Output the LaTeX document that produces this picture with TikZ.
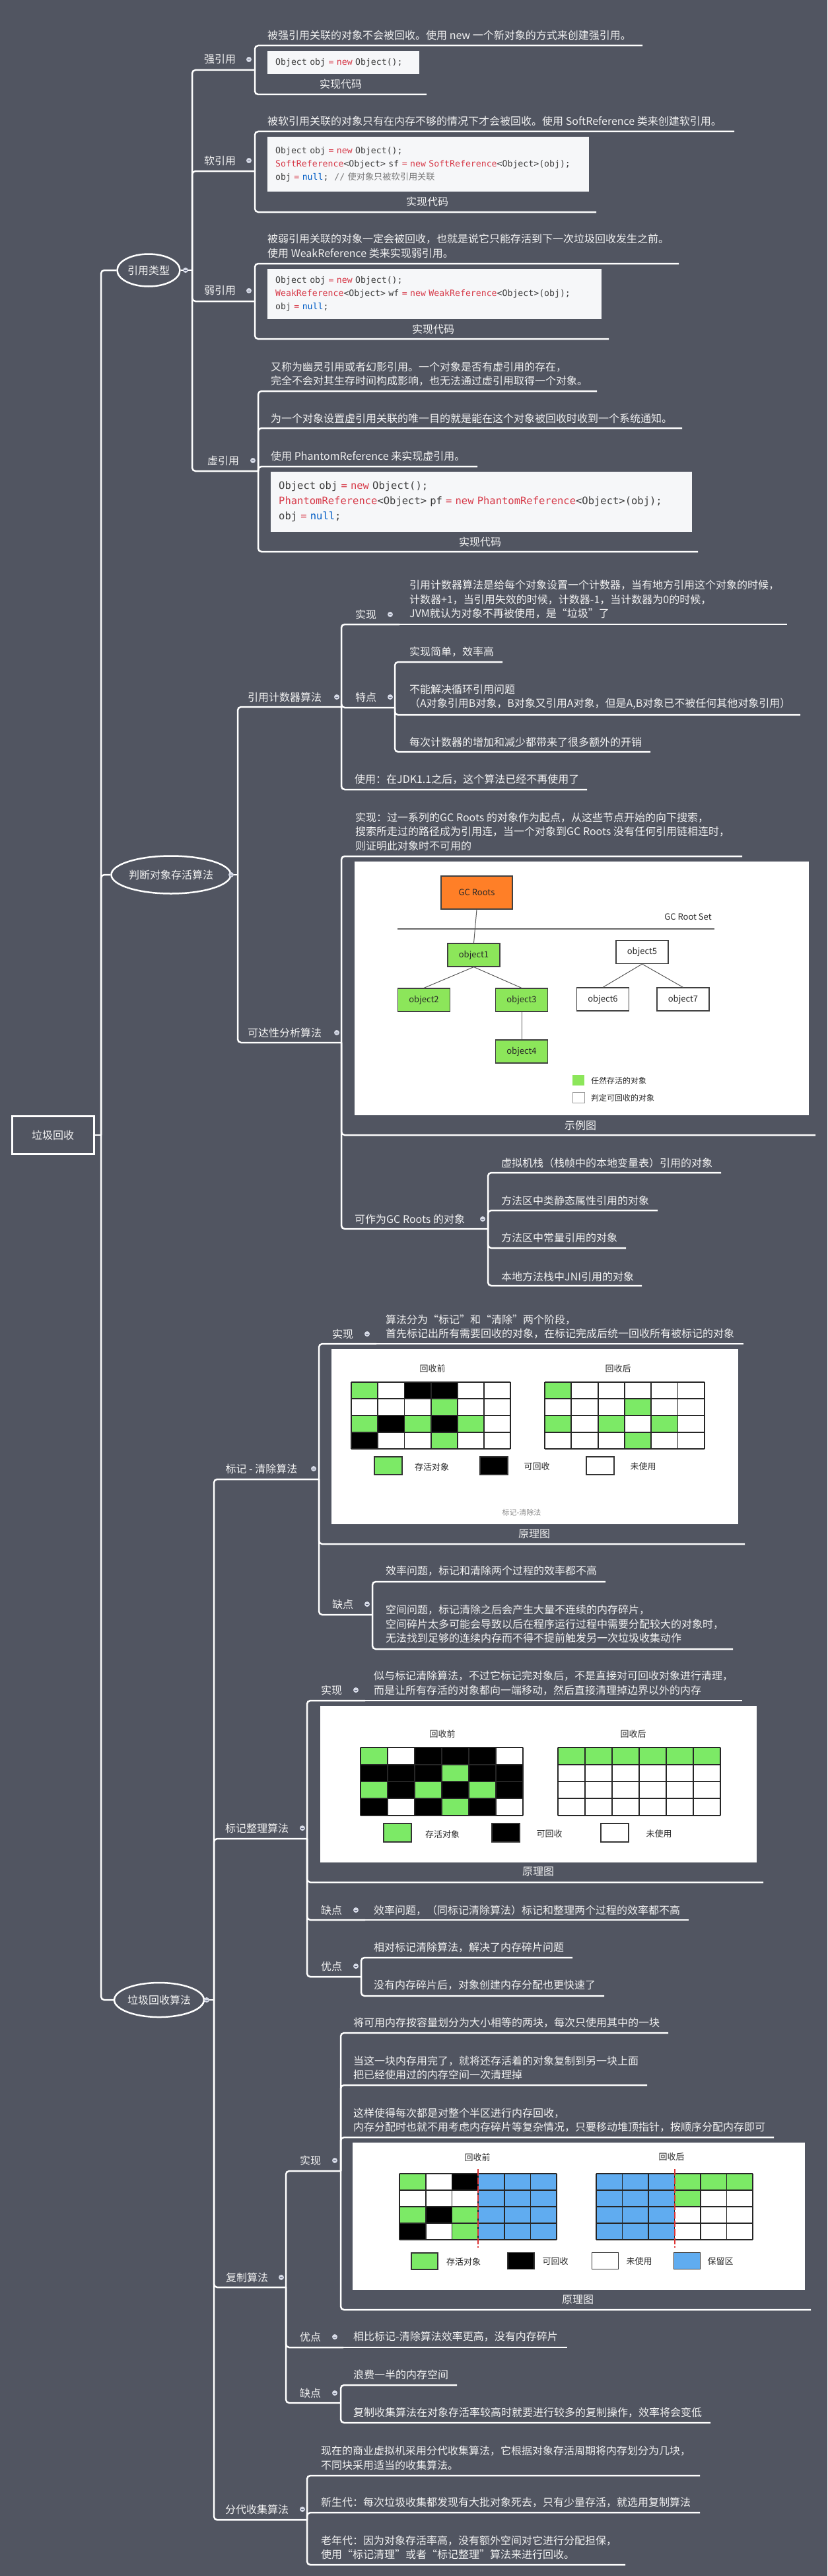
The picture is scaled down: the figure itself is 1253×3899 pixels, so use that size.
\documentclass[tikz,border=0pt]{standalone}
\usepackage{fontspec}
\setmainfont{Noto Sans CJK SC}
\setmonofont{DejaVu Sans Mono}
\usetikzlibrary{shapes.geometric}

\definecolor{bg}{RGB}{81,85,97}
\definecolor{fg}{RGB}{242,242,242}
\definecolor{foldfill}{RGB}{214,218,230}
\definecolor{foldline}{RGB}{90,96,120}
\definecolor{codebg}{RGB}{246,247,249}
\definecolor{codefg}{RGB}{60,60,60}
\definecolor{kw}{RGB}{215,58,73}
\definecolor{nl}{RGB}{0,92,197}
\definecolor{cm}{RGB}{120,120,120}
\definecolor{imgtext}{RGB}{40,40,40}
\definecolor{rootorange}{RGB}{255,127,39}
\definecolor{live}{RGB}{140,230,90}
\definecolor{cellgreen}{RGB}{124,234,102}
\definecolor{cellblue}{RGB}{96,172,240}
\definecolor{cutred}{RGB}{220,50,50}

\tikzset{
  branch/.style={draw=white, line width=2.5pt, rounded corners=5pt},
  txt/.style={text=fg, font=\fontsize{16}{21.5}\selectfont, inner sep=0pt, align=left, anchor=west},
  lbl/.style={text=fg, font=\fontsize{16}{16}\selectfont, inner sep=0pt},
  bubble/.style={ellipse, draw=white, line width=2.5pt, fill=bg, text=fg, inner sep=0pt, font=\fontsize{16}{16}\selectfont},
  rootbox/.style={rectangle, draw=white, line width=3pt, text=fg, minimum width=124, minimum height=57, font=\fontsize{16}{16}\selectfont},
  fold/.style={circle, fill=foldfill, minimum size=8pt, inner sep=0pt, path picture={\draw[foldline, line width=1pt] ([xshift=-2pt]path picture bounding box.center) -- ([xshift=2pt]path picture bounding box.center);}},
  code/.style={fill=codebg, anchor=north west, inner xsep=12pt, inner ysep=0pt, align=left, text=codefg, font=\ttfamily\fontsize{13.2}{20}\selectfont},
  shot/.style={fill=white, anchor=north west, inner sep=0pt},
  obj/.style={draw=black!75, line width=1.2pt, minimum width=79, minimum height=35, inner sep=0pt, text=imgtext, font=\fontsize{13}{13}\selectfont},
  ref/.style={draw=black!65, line width=1pt},
  imgtxt/.style={text=imgtext, inner sep=0pt, font=\fontsize{13}{13}\selectfont},
  key/.style={draw=black!80, line width=1.5pt, inner sep=0pt},
  cellline/.style={draw=black!85, line width=1.8pt},
  cut/.style={draw=cutred, line width=2pt, dash pattern=on 10pt off 3pt},
}

\newcommand\memgrid[5]{%
  \foreach \cell [count=\i from 0] in {#5} {
    \pgfmathtruncatemacro\col{mod(\i,6)}
    \pgfmathtruncatemacro\row{floor(\i/6)}
    \fill[fill=\cell] ({#1+\col*#3},{#2+\row*#4}) rectangle ++(#3,#4);
  }
  \foreach \k in {0,...,6} \draw[cellline] ({#1+\k*#3},#2) -- ++(0,{4*#4});
  \foreach \k in {0,...,4} \draw[cellline] (#1,{#2+\k*#4}) -- ++({6*#3},0);
}

\begin{document}
\begin{tikzpicture}[x=1pt,y=-1pt]
\fill[bg] (0,0) rectangle (1253,3899);
\useasboundingbox (0,0) rectangle (1253,3899);

\node[rootbox] (root) at (80,1718) {垃圾回收};
\coordinate (root-r) at (153,1718);

\node[bubble, minimum width=95, minimum height=49] (yylx) at (225,409) {引用类型};
\coordinate (yylx-r) at (291,409);
\node[bubble, minimum width=163, minimum height=57] (pdcl) at (259,1324) {判断对象存活算法};
\coordinate (pdcl-r) at (360,1324);
\node[bubble, minimum width=127, minimum height=52] (hsf) at (241,3027) {垃圾回收算法};
\coordinate (hsf-r) at (324,3027);

\node[lbl] (qiang) at (333,90) {强引用};
\coordinate (qiang-r) at (386,106);
\node[txt] (qiang-a) at (405,53) {被强引用关联的对象不会被回收。使用 new 一个新对象的方式来创建强引用。};
\coordinate (qiang-a-r) at (973,69);
\node[code, text width=206, minimum width=230, minimum height=35] (qiang-b) at (405,77) {Object obj \textcolor{kw}{=} \textcolor{kw}{new} Object();};
\node[lbl] (qiang-cap) at (516,127) {实现代码};
\coordinate (qiang-b-r) at (646,143);

\node[lbl] (ruan) at (333,243) {软引用};
\coordinate (ruan-r) at (386,259);
\node[txt] (ruan-a) at (405,183) {被软引用关联的对象只有在内存不够的情况下才会被回收。使用 SoftReference 类来创建软引用。};
\coordinate (ruan-a-r) at (1112,199);
\node[code, text width=463, minimum width=487, minimum height=83] (ruan-b) at (405,207) {Object obj \textcolor{kw}{=} \textcolor{kw}{new} Object();\\
\textcolor{kw}{SoftReference}<Object> sf \textcolor{kw}{=} \textcolor{kw}{new} \textcolor{kw}{SoftReference}<Object>(obj);\\
obj \textcolor{kw}{=} \textcolor{nl}{null};~ \textcolor{cm}{// {\rmfamily 使对象只被软引用关联}}};
\node[lbl] (ruan-cap) at (647,305) {实现代码};
\coordinate (ruan-b-r) at (903,321);

\node[lbl] (ruo) at (333,440) {弱引用};
\coordinate (ruo-r) at (386,456);
\node[txt] (ruo-a) at (405,372.5) {被弱引用关联的对象一定会被回收，也就是说它只能存活到下一次垃圾回收发生之前。\\使用 WeakReference 类来实现弱引用。};
\coordinate (ruo-a-r) at (1028,399);
\node[code, text width=482, minimum width=506, minimum height=76] (ruo-b) at (405,407) {Object obj \textcolor{kw}{=} \textcolor{kw}{new} Object();\\
\textcolor{kw}{WeakReference}<Object> wf \textcolor{kw}{=} \textcolor{kw}{new} \textcolor{kw}{WeakReference}<Object>(obj);\\
obj \textcolor{kw}{=} \textcolor{nl}{null};};
\node[lbl] (ruo-cap) at (656,498) {实现代码};
\coordinate (ruo-b-r) at (922,513);

\node[lbl] (xu) at (338,697) {虚引用};
\coordinate (xu-r) at (391,713);
\node[txt] (xu-a) at (410,566) {又称为幽灵引用或者幻影引用。一个对象是否有虚引用的存在，\\完全不会对其生存时间构成影响，也无法通过虚引用取得一个对象。};
\coordinate (xu-a-r) at (904,592);
\node[txt] (xu-b) at (410,633) {为一个对象设置虚引用关联的唯一目的就是能在这个对象被回收时收到一个系统通知。};
\coordinate (xu-b-r) at (1033,648);
\node[txt] (xu-c) at (410,690) {使用 PhantomReference 来实现虚引用。};
\coordinate (xu-c-r) at (723,706);
\node[code, text width=614, minimum width=638, minimum height=91, font=\ttfamily\fontsize{15.5}{23}\selectfont] (xu-d) at (410,714) {Object obj \textcolor{kw}{=} \textcolor{kw}{new} Object();\\
\textcolor{kw}{PhantomReference}<Object> pf \textcolor{kw}{=} \textcolor{kw}{new} \textcolor{kw}{PhantomReference}<Object>(obj);\\
obj \textcolor{kw}{=} \textcolor{nl}{null};};
\node[lbl] (xu-cap) at (727,820) {实现代码};
\coordinate (xu-d-r) at (1057,835);

\node[lbl] (yyjs) at (431,1055) {引用计数器算法};
\coordinate (yyjs-r) at (517,1070);
\node[lbl] (yyjs-sx) at (554,930) {实现};
\coordinate (yyjs-sx-r) at (605,945);
\node[txt] (yyjs-sx-a) at (620,907.5) {引用计数器算法是给每个对象设置一个计数器，当有地方引用这个对象的时候，\\计数器+1，当引用失效的时候，计数器-1，当计数器为0的时候，\\JVM就认为对象不再被使用，是“垃圾”了};
\coordinate (yyjs-sx-a-r) at (1192,945);
\node[lbl] (yyjs-td) at (554,1055) {特点};
\coordinate (yyjs-td-r) at (598,1071);
\node[txt] (yyjs-td-a) at (620,987) {实现简单，效率高};
\coordinate (yyjs-td-a-r) at (761,1002);
\node[txt] (yyjs-td-b) at (620,1055) {不能解决循环引用问题\\（A对象引用B对象，B对象又引用A对象，但是A,B对象已不被任何其他对象引用）};
\coordinate (yyjs-td-b-r) at (1212,1082);
\node[txt] (yyjs-td-c) at (620,1123) {每次计数器的增加和减少都带来了很多额外的开销};
\coordinate (yyjs-td-c-r) at (985,1138);
\node[txt] (yyjs-sy) at (537,1180) {使用：在JDK1.1之后，这个算法已经不再使用了};
\coordinate (yyjs-sy-r) at (889,1195);

\node[lbl] (kdx) at (431,1563) {可达性分析算法};
\coordinate (kdx-r) at (517,1578);
\node[txt] (kdx-a) at (538,1258.5) {实现：过一系列的GC Roots 的对象作为起点，从这些节点开始的向下搜索，\\搜索所走过的路径成为引用连，当一个对象到GC Roots 没有任何引用链相连时，\\则证明此对象时不可用的};
\coordinate (kdx-a-r) at (1124,1296);
\node[shot, minimum width=688, minimum height=384] (kdx-b) at (537,1304) {};
\node[obj, fill=rootorange, minimum width=108, minimum height=50] (gcroots) at (722,1351) {GC Roots};
\node[imgtxt] (rootset) at (1042,1388) {GC Root Set};
\coordinate (set-l) at (602,1406);
\coordinate (set-r) at (1082,1406);
\draw[black!60, line width=1.5pt] (set-l) -- (set-r);
\node[obj, fill=live] (o1) at (717.5,1445.5) {object1};
\node[obj, fill=live] (o2) at (642,1513.5) {object2};
\node[obj, fill=live] (o3) at (790,1513.5) {object3};
\node[obj, fill=live] (o4) at (790,1591.5) {object4};
\node[obj, fill=white] (o5) at (972.5,1441) {object5};
\node[obj, fill=white] (o6) at (913,1512.5) {object6};
\node[obj, fill=white] (o7) at (1034.5,1512.5) {object7};
\draw[ref] (gcroots.south) -- (o1.north);
\draw[ref] (o1.south) -- (o2.north);
\draw[ref] (o1.south) -- (o3.north);
\draw[ref] (o3.south) -- (o4.north);
\draw[ref] (o5.south) -- (o6.north);
\draw[ref] (o5.south) -- (o7.north);
\node[fill=live, minimum width=18, minimum height=16, inner sep=0pt] (k-live) at (876,1635) {};
\node[imgtxt, anchor=west, font=\fontsize{12}{12}\selectfont] (k-live-t) at (895,1636) {任然存活的对象};
\node[draw=black!40, line width=1pt, minimum width=18, minimum height=16, inner sep=0pt] (k-dead) at (876,1661) {};
\node[imgtxt, anchor=west, font=\fontsize{12}{12}\selectfont] (k-dead-t) at (895,1662) {判定可回收的对象};
\node[lbl] (kdx-cap) at (879,1703) {示例图};
\coordinate (kdx-b-r) at (1235,1718);
\node[lbl, anchor=west] (kdx-gc) at (537,1845) {可作为GC Roots 的对象};
\coordinate (kdx-gc-r) at (739,1860);
\node[txt] (kdx-gc-a) at (759,1760) {虚拟机栈（栈帧中的本地变量表）引用的对象};
\coordinate (kdx-gc-a-r) at (1092,1775);
\node[txt] (kdx-gc-b) at (759,1817) {方法区中类静态属性引用的对象};
\coordinate (kdx-gc-b-r) at (996,1832);
\node[txt] (kdx-gc-c) at (759,1873) {方法区中常量引用的对象};
\coordinate (kdx-gc-c-r) at (948,1889);
\node[txt] (kdx-gc-d) at (759,1932) {本地方法栈中JNI引用的对象};
\coordinate (kdx-gc-d-r) at (972,1946);

\node[lbl] (bjqc) at (396,2223) {标记 - 清除算法};
\coordinate (bjqc-r) at (483,2239);
\node[lbl] (bjqc-sx) at (519,2019) {实现};
\coordinate (bjqc-sx-r) at (570,2034);
\node[txt] (bjqc-sx-a) at (584,2008) {算法分为“标记”和“清除”两个阶段，\\首先标记出所有需要回收的对象，在标记完成后统一回收所有被标记的对象};
\coordinate (bjqc-sx-a-r) at (1126,2034);
\node[shot, minimum width=616, minimum height=265] (bjqc-b) at (502,2042) {};
\node[imgtxt] (ms-pre) at (655,2072) {回收前};
\node[imgtxt] (ms-post) at (936,2072) {回收后};
\memgrid{532}{2092}{40.2}{25.25}{cellgreen,white,black,black,white,white, white,white,white,cellgreen,white,white, cellgreen,black,cellgreen,black,cellgreen,white, black,white,white,cellgreen,white,white}
\memgrid{825}{2092}{40.3}{25.25}{cellgreen,white,white,white,white,white, white,white,white,cellgreen,white,white, cellgreen,white,cellgreen,white,cellgreen,white, white,white,white,cellgreen,white,white}
\node[key, fill=cellgreen, minimum width=42, minimum height=27] (ms-k1) at (588,2218.5) {};
\node[imgtxt] (ms-t1) at (654,2220) {存活对象};
\node[key, fill=black, minimum width=42, minimum height=27] (ms-k2) at (748,2218.5) {};
\node[imgtxt] (ms-t2) at (813,2220) {可回收};
\node[key, fill=white, minimum width=42, minimum height=27] (ms-k3) at (909,2218.5) {};
\node[imgtxt] (ms-t3) at (974,2220) {未使用};
\node[imgtxt, text=black!45, font=\fontsize{11}{11}\selectfont] (ms-name) at (790,2289) {标记-清除法};
\node[lbl] (bjqc-cap) at (809,2322) {原理图};
\coordinate (bjqc-b-r) at (1128,2337);
\node[lbl] (bjqc-qd) at (519,2428) {缺点};
\coordinate (bjqc-qd-r) at (564,2444);
\node[txt] (bjqc-qd-a) at (584,2378) {效率问题，标记和清除两个过程的效率都不高};
\coordinate (bjqc-qd-a-r) at (917,2394);
\node[txt] (bjqc-qd-b) at (584,2458) {空间问题，标记清除之后会产生大量不连续的内存碎片，\\空间碎片太多可能会导致以后在程序运行过程中需要分配较大的对象时，\\无法找到足够的连续内存而不得不提前触发另一次垃圾收集动作};
\coordinate (bjqc-qd-b-r) at (1110,2496);

\node[lbl] (bjzl) at (389,2767) {标记整理算法};
\coordinate (bjzl-r) at (465,2783);
\node[lbl] (bjzl-sx) at (502,2558) {实现};
\coordinate (bjzl-sx-r) at (553,2574);
\node[txt] (bjzl-sx-a) at (566,2547.5) {似与标记清除算法，不过它标记完对象后，不是直接对可回收对象进行清理，\\而是让所有存活的对象都向一端移动，然后直接清理掉边界以外的内存};
\coordinate (bjzl-sx-a-r) at (1124,2574);
\node[shot, minimum width=661, minimum height=237] (bjzl-b) at (485,2582) {};
\node[imgtxt] (mc-pre) at (670,2625) {回收前};
\node[imgtxt] (mc-post) at (959,2625) {回收后};
\memgrid{546}{2645}{41}{25.75}{cellgreen,white,black,black,black,white, black,black,black,cellgreen,black,black, cellgreen,black,cellgreen,black,cellgreen,black, black,white,black,cellgreen,black,white}
\memgrid{845}{2645}{41}{25.75}{cellgreen,cellgreen,cellgreen,cellgreen,cellgreen,cellgreen, white,white,white,white,white,white, white,white,white,white,white,white, white,white,white,white,white,white}
\node[key, fill=cellgreen, minimum width=42, minimum height=28] (mc-k1) at (602,2774) {};
\node[imgtxt] (mc-t1) at (670,2776) {存活对象};
\node[key, fill=black, minimum width=42, minimum height=28] (mc-k2) at (766,2774) {};
\node[imgtxt] (mc-t2) at (832,2776) {可回收};
\node[key, fill=white, minimum width=42, minimum height=28] (mc-k3) at (931,2774) {};
\node[imgtxt] (mc-t3) at (998,2776) {未使用};
\node[lbl] (bjzl-cap) at (815,2833) {原理图};
\coordinate (bjzl-b-r) at (1156,2849);
\node[lbl] (bjzl-qd) at (502,2891) {缺点};
\coordinate (bjzl-qd-r) at (553,2906);
\node[txt] (bjzl-qd-a) at (566,2891) {效率问题，（同标记清除算法）标记和整理两个过程的效率都不高};
\coordinate (bjzl-qd-a-r) at (1043,2906);
\node[lbl] (bjzl-yd) at (502,2976) {优点};
\coordinate (bjzl-yd-r) at (547,2992);
\node[txt] (bjzl-yd-a) at (566,2948) {相对标记清除算法，解决了内存碎片问题};
\coordinate (bjzl-yd-a-r) at (867,2963);
\node[txt] (bjzl-yd-b) at (566,3005) {没有内存碎片后，对象创建内存分配也更快速了};
\coordinate (bjzl-yd-b-r) at (915,3021);

\node[lbl] (fz) at (374,3447) {复制算法};
\coordinate (fz-r) at (433,3462);
\node[lbl] (fz-sx) at (470,3270) {实现};
\coordinate (fz-sx-r) at (516,3286);
\node[txt] (fz-sx-a) at (535,3062) {将可用内存按容量划分为大小相等的两块，每次只使用其中的一块};
\coordinate (fz-sx-a-r) at (1012,3077);
\node[txt] (fz-sx-b) at (535,3130) {当这一块内存用完了，就将还存活着的对象复制到另一块上面\\把已经使用过的内存空间一次清理掉};
\coordinate (fz-sx-b-r) at (980,3156);
\node[txt] (fz-sx-c) at (535,3209) {这样使得每次都是对整个半区进行内存回收，\\内存分配时也就不用考虑内存碎片等复杂情况，只要移动堆顶指针，按顺序分配内存即可};
\coordinate (fz-sx-c-r) at (1172,3235);
\node[shot, minimum width=685, minimum height=223] (fz-sx-d) at (534,3243) {};
\node[imgtxt] (cp-pre) at (723,3265) {回收前};
\node[imgtxt] (cp-post) at (1017,3265) {回收后};
\memgrid{605}{3290}{39.7}{25}{cellgreen,white,black,cellblue,cellblue,cellblue, white,white,white,cellblue,cellblue,cellblue, cellgreen,black,cellgreen,cellblue,cellblue,cellblue, black,white,cellgreen,cellblue,cellblue,cellblue}
\memgrid{903}{3290}{39.5}{25}{cellblue,cellblue,cellblue,cellgreen,cellgreen,cellgreen, cellblue,cellblue,cellblue,cellgreen,white,white, cellblue,cellblue,cellblue,white,white,white, cellblue,cellblue,cellblue,white,white,white}
\coordinate (cut1-t) at (724,3283);
\coordinate (cut1-b) at (724,3402);
\coordinate (cut2-t) at (1021.5,3283);
\coordinate (cut2-b) at (1021.5,3402);
\draw[cut] (cut1-t) -- (cut1-b);
\draw[cut] (cut2-t) -- (cut2-b);
\node[key, fill=cellgreen, minimum width=40, minimum height=25] (cp-k1) at (643,3422.5) {};
\node[imgtxt] (cp-t1) at (702,3423) {存活对象};
\node[key, fill=black, minimum width=40, minimum height=25] (cp-k2) at (789,3422) {};
\node[imgtxt] (cp-t2) at (841,3423) {可回收};
\node[key, fill=white, minimum width=40, minimum height=25] (cp-k3) at (916.5,3422) {};
\node[imgtxt] (cp-t3) at (968,3423) {未使用};
\node[key, fill=cellblue, minimum width=40, minimum height=25] (cp-k4) at (1040.5,3422) {};
\node[imgtxt] (cp-t4) at (1091,3423) {保留区};
\node[lbl] (fz-cap) at (875,3481) {原理图};
\coordinate (fz-sx-d-r) at (1228,3496);
\node[lbl] (fz-yd) at (470,3537) {优点};
\coordinate (fz-yd-r) at (520,3553);
\node[txt] (fz-yd-a) at (535,3537) {相比标记-清除算法效率更高，没有内存碎片};
\coordinate (fz-yd-a-r) at (859,3553);
\node[lbl] (fz-qd) at (470,3622) {缺点};
\coordinate (fz-qd-r) at (516,3637);
\node[txt] (fz-qd-a) at (535,3594) {浪费一半的内存空间};
\coordinate (fz-qd-a-r) at (692,3610);
\node[txt] (fz-qd-b) at (535,3652) {复制收集算法在对象存活率较高时就要进行较多的复制操作，效率将会变低};
\coordinate (fz-qd-b-r) at (1076,3667);

\node[lbl] (fd) at (389,3798) {分代收集算法};
\coordinate (fd-r) at (465,3814);
\node[txt] (fd-a) at (486,3720.5) {现在的商业虚拟机采用分代收集算法，它根据对象存活周期将内存划分为几块，\\不同块采用适当的收集算法。};
\coordinate (fd-a-r) at (1060,3747);
\node[txt] (fd-b) at (486,3788) {新生代：每次垃圾收集都发现有大批对象死去，只有少量存活，就选用复制算法};
\coordinate (fd-b-r) at (1060,3803);
\node[txt] (fd-c) at (486,3856) {老年代：因为对象存活率高，没有额外空间对它进行分配担保，\\使用“标记清理”或者“标记整理”算法来进行回收。};
\coordinate (fd-c-r) at (947,3882);

\draw[branch] (root.east) -- (root-r);
\draw[branch] (root-r) |- (yylx.west);
\draw[branch] (root-r) |- (pdcl.west);
\draw[branch] (root-r) |- (hsf.west);
\draw[branch] (yylx.east) -- (yylx-r);
\draw[branch] (pdcl.east) -- (pdcl-r);
\draw[branch] (hsf.east) -- (hsf-r);
\foreach \pa/\ch in {yylx/qiang, yylx/ruan, yylx/ruo, yylx/xu, qiang/qiang-a, qiang/qiang-b, ruan/ruan-a, ruan/ruan-b, ruo/ruo-a, ruo/ruo-b, xu/xu-a, xu/xu-b, xu/xu-c, xu/xu-d, pdcl/yyjs, pdcl/kdx, yyjs/yyjs-sx, yyjs/yyjs-td, yyjs/yyjs-sy, yyjs-td/yyjs-td-a, yyjs-td/yyjs-td-b, yyjs-td/yyjs-td-c, kdx/kdx-a, kdx/kdx-b, kdx/kdx-gc, kdx-gc/kdx-gc-a, kdx-gc/kdx-gc-b, kdx-gc/kdx-gc-c, kdx-gc/kdx-gc-d, hsf/bjqc, hsf/bjzl, hsf/fz, hsf/fd, bjqc/bjqc-sx, bjqc/bjqc-b, bjqc/bjqc-qd, bjqc-qd/bjqc-qd-a, bjqc-qd/bjqc-qd-b, bjzl/bjzl-sx, bjzl/bjzl-b, bjzl/bjzl-qd, bjzl/bjzl-yd, bjzl-yd/bjzl-yd-a, bjzl-yd/bjzl-yd-b, fz/fz-sx, fz/fz-yd, fz/fz-qd, fz-sx/fz-sx-a, fz-sx/fz-sx-b, fz-sx/fz-sx-c, fz-sx/fz-sx-d, fz-qd/fz-qd-a, fz-qd/fz-qd-b, fd/fd-a, fd/fd-b, fd/fd-c}
  \draw[branch] (\pa-r) |- (\ch-r);
\foreach \pa/\ch in {yyjs-sx/yyjs-sx-a, bjqc-sx/bjqc-sx-a, bjzl-sx/bjzl-sx-a, bjzl-qd/bjzl-qd-a, fz-yd/fz-yd-a}
  \draw[branch] (\pa-r) -- (\ch-r);

\foreach \f/\x/\y in {yylx/281/409, pdcl/350/1324, hsf/313/3027, qiang/377/90, ruan/377/243, ruo/377/440, xu/383/697, yyjs/510/1055, kdx/510/1563, yyjs-sx/591/930, yyjs-td/591/1055, kdx-gc/731/1845, bjqc/475/2223, bjzl/458/2767, fz/426/3447, fd/458/3798, bjqc-sx/556/2019, bjqc-qd/556/2428, bjzl-sx/539/2558, bjzl-qd/539/2891, bjzl-yd/539/2976, fz-sx/507/3270, fz-yd/507/3537, fz-qd/507/3622}
  \node[fold] (\f-fold) at (\x,\y) {};
\end{tikzpicture}
\end{document}
